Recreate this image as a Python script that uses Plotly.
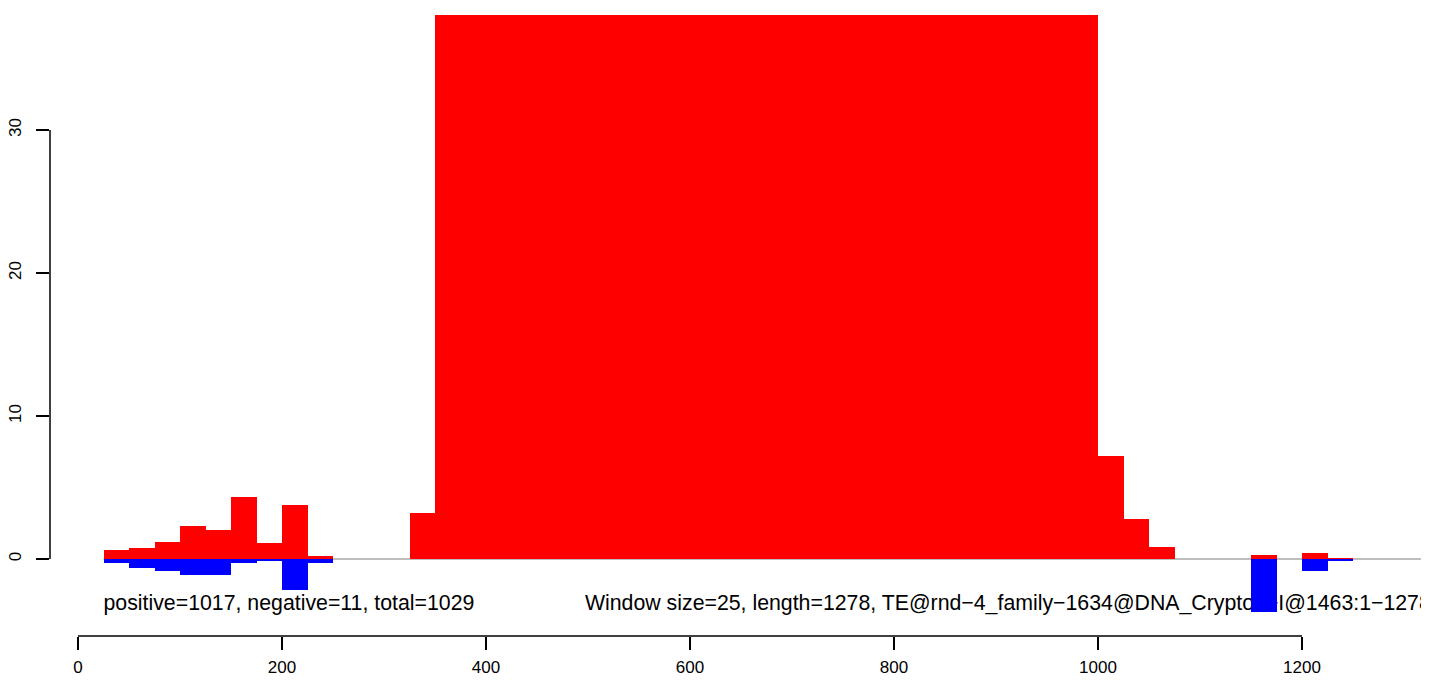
import plotly.graph_objects as go

# window start positions (window size 25)
window_start = [25, 50, 75, 100, 125, 150, 175, 200, 225,
                325,
                350, 375, 400, 425, 450, 475, 500, 525, 550, 575, 600, 625, 650,
                675, 700, 725, 750, 775, 800, 825, 850, 875, 900, 925, 950, 975,
                1000, 1025, 1050,
                1150, 1200, 1225]
positive = [0.64, 0.80, 1.22, 2.34, 2.06, 4.37, 1.15, 3.81, 0.24,
            3.25,
            45, 45, 45, 45, 45, 45, 45, 45, 45, 45, 45, 45, 45,
            45, 45, 45, 45, 45, 45, 45, 45, 45, 45, 45, 45, 45,
            7.17, 2.83, 0.87,
            0.31, 0.45, 0.04]
negative = [-0.29, -0.64, -0.85, -1.13, -1.13, -0.29, -0.15, -2.18, -0.29,
            0,
            0, 0, 0, 0, 0, 0, 0, 0, 0, 0, 0, 0, 0,
            0, 0, 0, 0, 0, 0, 0, 0, 0, 0, 0, 0, 0,
            0, 0, 0,
            -3.69, -0.87, -0.17]
window_size = 25
x_ticks = [0, 200, 400, 600, 800, 1000, 1200]
y_ticks = [0, 10, 20, 30]
label_left = "positive=1017, negative=11, total=1029"
label_right = "Window size=25, length=1278, TE@rnd\u22124_family\u22121634@DNA_Crypton\u2212I@1463:1\u22121278"

centers = [s + window_size / 2 for s in window_start]

FONT = "Liberation Sans, Arial, sans-serif"
XR = [-27.45, 1324.5]
YR = [-5.385, 38.04]

fig = go.Figure()

# annotation text (drawn beneath bars)
fig.add_trace(go.Scatter(
    x=[25, 497], y=[-3.2, -3.2], mode="text",
    text=[label_left, label_right], textposition="middle right",
    textfont=dict(family=FONT, size=21.3, color="black"),
    cliponaxis=False, showlegend=False, hoverinfo="skip",
    xaxis="x", yaxis="y"))

fig.add_trace(go.Bar(
    x=centers, y=positive, width=window_size, marker=dict(color="#ff0000", line=dict(width=0)),
    showlegend=False, xaxis="x2", yaxis="y2"))
fig.add_trace(go.Bar(
    x=centers, y=negative, width=window_size, marker=dict(color="#0000ff", line=dict(width=0)),
    showlegend=False, xaxis="x2", yaxis="y2"))

fig.update_layout(
    width=1421, height=674,
    margin=dict(l=42, r=0, t=7, b=46, autoexpand=False),
    paper_bgcolor="white", plot_bgcolor="rgba(0,0,0,0)",
    barmode="overlay", bargap=0,
    font=dict(family=FONT, size=17, color="black"),
    xaxis=dict(range=XR, tickvals=x_ticks, ticks="outside", ticklen=13, tickwidth=1.5,
               tickcolor="black", showline=False, showgrid=False, zeroline=False,
               tickfont=dict(size=17), ticklabelstandoff=3, automargin=False),
    yaxis=dict(range=YR, tickvals=y_ticks, ticks="outside", ticklen=13, tickwidth=1.5,
               tickcolor="black", showline=False, showgrid=False, zeroline=False,
               tickangle=-90, tickfont=dict(size=17), ticklabelstandoff=8,
               automargin=False),
    xaxis2=dict(range=XR, overlaying="x", visible=False, anchor="y2"),
    yaxis2=dict(range=YR, overlaying="y", visible=False, anchor="x2"),
    shapes=[
        dict(type="line", xref="x", yref="y", x0=25, x1=1400, y0=0, y1=0,
             line=dict(color="#a9a9a9", width=1.5), layer="below"),
        dict(type="line", xref="x", yref="paper", x0=0, x1=1200, y0=0, y1=0,
             line=dict(color="black", width=1.5)),
        dict(type="line", xref="paper", yref="y", x0=0, x1=0, y0=0, y1=30,
             line=dict(color="black", width=1.5)),
    ],
)

fig.write_html("out.html")
